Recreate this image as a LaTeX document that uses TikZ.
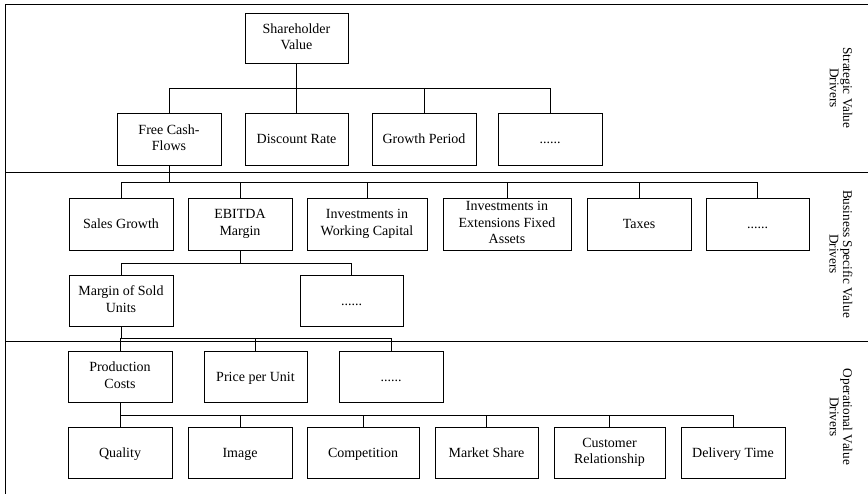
\documentclass[tikz,border=0pt]{standalone}
\usepackage{fontspec}
\setmainfont{Liberation Serif}
\newcommand{\boxstrut}{\rule[-3.2pt]{0pt}{16pt}}
\begin{document}
\begin{tikzpicture}[x=1pt,y=-1pt,
  box/.style={draw,line width=0.9pt,rectangle,inner sep=0pt,align=center,
    font=\fontsize{14}{16.5}\selectfont,minimum height=51pt,
    execute at begin node={\boxstrut}, execute at end node={\boxstrut}},
  conn/.style={line width=0.9pt},
  frameline/.style={line width=1pt},
  side/.style={rotate=-90,align=center,font=\fontsize{13.3}{13.3}\selectfont}]
\useasboundingbox (0,0) rectangle (868,494);
% frame and bands
\coordinate (ftl) at (5,4.5);
\coordinate (ftr) at (868,4.5);
\coordinate (fbl) at (5,494);
\coordinate (s1l) at (5,172.5);
\coordinate (s1r) at (868,172.5);
\coordinate (s2l) at (5,341.5);
\coordinate (s2r) at (868,341.5);
\draw[frameline] (fbl) -- (ftl) -- (ftr);
\draw[frameline] (s1l) -- (s1r);
\draw[frameline] (s2l) -- (s2r);
% side labels
\node[side] (l1) at (841,88) {Strategic Value\\Drivers};
\node[side] (l2) at (841,254) {Business Specific Value\\Drivers};
\node[side] (l3) at (841,417) {Operational Value\\Drivers};
% level 1
\node[box,minimum width=103pt,minimum height=50pt] (sv) at (296.5,38) {Shareholder\\Value};
\node[box,minimum width=104pt,minimum height=52pt] (fcf) at (169,139) {Free Cash-\\Flows};
\node[box,minimum width=103pt,minimum height=52pt] (dr) at (296.5,139) {Discount Rate};
\node[box,minimum width=104pt,minimum height=52pt] (gp) at (424,139) {Growth Period};
\node[box,minimum width=104pt,minimum height=52pt] (d1) at (550,139) {......};
% level 2
\node[box,minimum width=104pt,minimum height=52pt] (sg) at (121,224) {Sales Growth};
\node[box,minimum width=104pt,minimum height=52pt] (eb) at (240,224) {EBITDA\\Margin};
\node[box,minimum width=120pt,minimum height=52pt] (iwc) at (367,224) {Investments in\\Working Capital};
\node[box,minimum width=128pt,minimum height=52pt] (ief) at (507,224) {Investments in\\Extensions Fixed\\Assets};
\node[box,minimum width=104pt,minimum height=52pt] (tx) at (639,224) {Taxes};
\node[box,minimum width=103pt,minimum height=52pt] (d2) at (757.5,224) {......};
% level 2b
\node[box,minimum width=104pt] (msu) at (121,300.5) {Margin of Sold\\Units};
\node[box,minimum width=103pt] (d3) at (351.5,300.5) {......};
% level 3
\node[box,minimum width=104pt] (pc) at (120,376.5) {Production\\Costs};
\node[box,minimum width=103pt] (ppu) at (255.5,376.5) {Price per Unit};
\node[box,minimum width=104pt] (d4) at (391,376.5) {......};
% level 4
\node[box,minimum width=104pt] (q) at (120,452.5) {Quality};
\node[box,minimum width=104pt] (im) at (240,452.5) {Image};
\node[box,minimum width=112pt] (co) at (363,452.5) {Competition};
\node[box,minimum width=103pt] (ms) at (486.5,452.5) {Market Share};
\node[box,minimum width=111pt] (cr) at (609.5,452.5) {Customer\\Relationship};
\node[box,minimum width=104pt] (dt) at (733,452.5) {Delivery Time};
% bus levels
\coordinate (b1) at (0,88);
\coordinate (b2) at (0,182);
\coordinate (b3) at (0,263);
\coordinate (b4) at (0,338);
\coordinate (b5) at (0,415);
% connectors level 1
\draw[conn] (sv.south) -- (sv.south |- b1);
\draw[conn] (fcf.north) |- (d1.north |- b1) -- (d1.north);
\draw[conn] (dr.north) -- (dr.north |- b1);
\draw[conn] (gp.north) -- (gp.north |- b1);
% connectors level 2
\draw[conn] (fcf.south) -- (fcf.south |- b2);
\draw[conn] (sg.north) |- (d2.north |- b2) -- (d2.north);
\draw[conn] (eb.north) -- (eb.north |- b2);
\draw[conn] (iwc.north) -- (iwc.north |- b2);
\draw[conn] (ief.north) -- (ief.north |- b2);
\draw[conn] (tx.north) -- (tx.north |- b2);
% connectors level 2b
\draw[conn] (eb.south) -- (eb.south |- b3);
\draw[conn] (msu.north) |- (d3.north |- b3) -- (d3.north);
% connectors level 3
\draw[conn] (msu.south) -- (msu.south |- b4);
\draw[conn] (pc.north) |- (d4.north |- b4) -- (d4.north);
\draw[conn] (ppu.north) -- (ppu.north |- b4);
% connectors level 4
\draw[conn] (pc.south) -- (pc.south |- b5);
\draw[conn] (q.north) |- (dt.north |- b5) -- (dt.north);
\draw[conn] (im.north) -- (im.north |- b5);
\draw[conn] (co.north) -- (co.north |- b5);
\draw[conn] (ms.north) -- (ms.north |- b5);
\draw[conn] (cr.north) -- (cr.north |- b5);
\end{tikzpicture}
\end{document}
